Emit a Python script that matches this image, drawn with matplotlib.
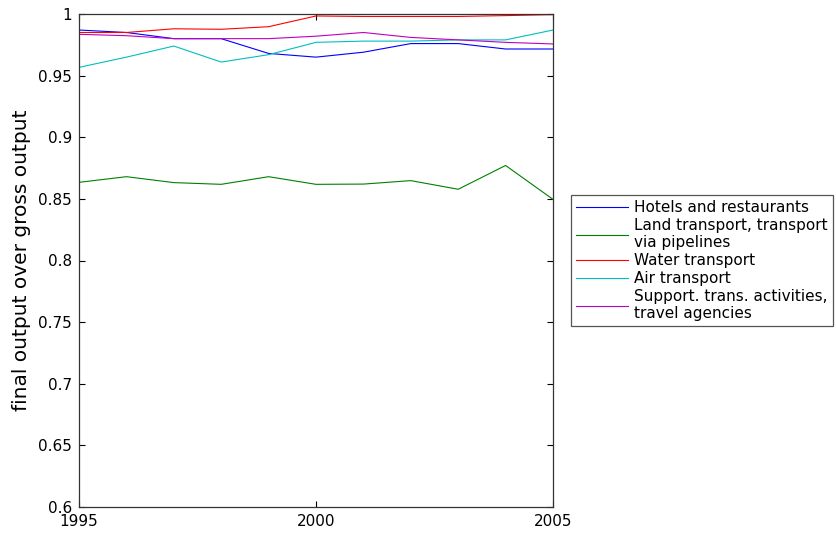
import matplotlib
matplotlib.use("Agg")
import matplotlib.pyplot as plt

years = [1995, 1996, 1997, 1998, 1999, 2000, 2001, 2002, 2003, 2004, 2005]
hotels = [0.987, 0.985, 0.980, 0.980, 0.968, 0.965, 0.969, 0.976, 0.976, 0.9716, 0.9716]
land = [0.8634, 0.868, 0.8632, 0.8618, 0.868, 0.8618, 0.862, 0.8648, 0.8578, 0.8771, 0.8496]
water = [0.985, 0.985, 0.988, 0.9876, 0.9897, 0.9984, 0.998, 0.998, 0.998, 0.9987, 0.9995]
air = [0.9567, 0.965, 0.974, 0.961, 0.967, 0.977, 0.978, 0.978, 0.979, 0.979, 0.987]
support = [0.9835, 0.9824, 0.980, 0.980, 0.980, 0.982, 0.985, 0.981, 0.979, 0.977, 0.9757]

labels = ["Hotels and restaurants",
          "Land transport, transport\nvia pipelines",
          "Water transport",
          "Air transport",
          "Support. trans. activities,\ntravel agencies"]
colors = [(0, 0, 1), (0, 0.5, 0), (1, 0, 0), (0, 0.75, 0.75), (0.75, 0, 0.75)]
series = [hotels, land, water, air, support]

yticks = [0.6, 0.65, 0.7, 0.75, 0.8, 0.85, 0.9, 0.95, 1.0]
ytick_labels = ["0.6", "0.65", "0.7", "0.75", "0.8", "0.85", "0.9", "0.95", "1"]
xticks = [1995, 2000, 2005]

plt.rcParams['font.family'] = ['DejaVu Sans']

fig = plt.figure(figsize=(8.36, 5.33), dpi=100)
ax = fig.add_axes([79 / 836, 26 / 533, (553 - 79) / 836, (507 - 14) / 533])

for s, lab, c in zip(series, labels, colors):
    ax.plot(years, s, color=c, lw=0.8, label=lab)

ax.set_xlim(1995, 2005)
ax.set_ylim(0.6, 1.0)
ax.set_xticks(xticks)
ax.set_xticklabels([str(x) for x in xticks])
ax.set_yticks(yticks)
ax.set_yticklabels(ytick_labels)
ax.tick_params(direction='in', length=4, width=0.8, labelsize=11,
               top=True, right=True, colors='black')
ax.tick_params(axis='x', pad=5)
ax.tick_params(axis='y', pad=5)
for sp in ax.spines.values():
    sp.set_linewidth(0.9)
    sp.set_color('#333333')

ax.set_ylabel("final output over gross output", fontsize=14.5, labelpad=5)

leg = ax.legend(loc='upper left', bbox_to_anchor=(571 / 836, 1 - 195 / 533),
                bbox_transform=fig.transFigure, borderaxespad=0,
                fontsize=11, fancybox=False, framealpha=1, edgecolor='#555555',
                handlelength=3.4, handletextpad=0.4, labelspacing=0.18,
                borderpad=0.35)
leg.get_frame().set_linewidth(0.9)

fig.savefig("out.png", dpi=100)
